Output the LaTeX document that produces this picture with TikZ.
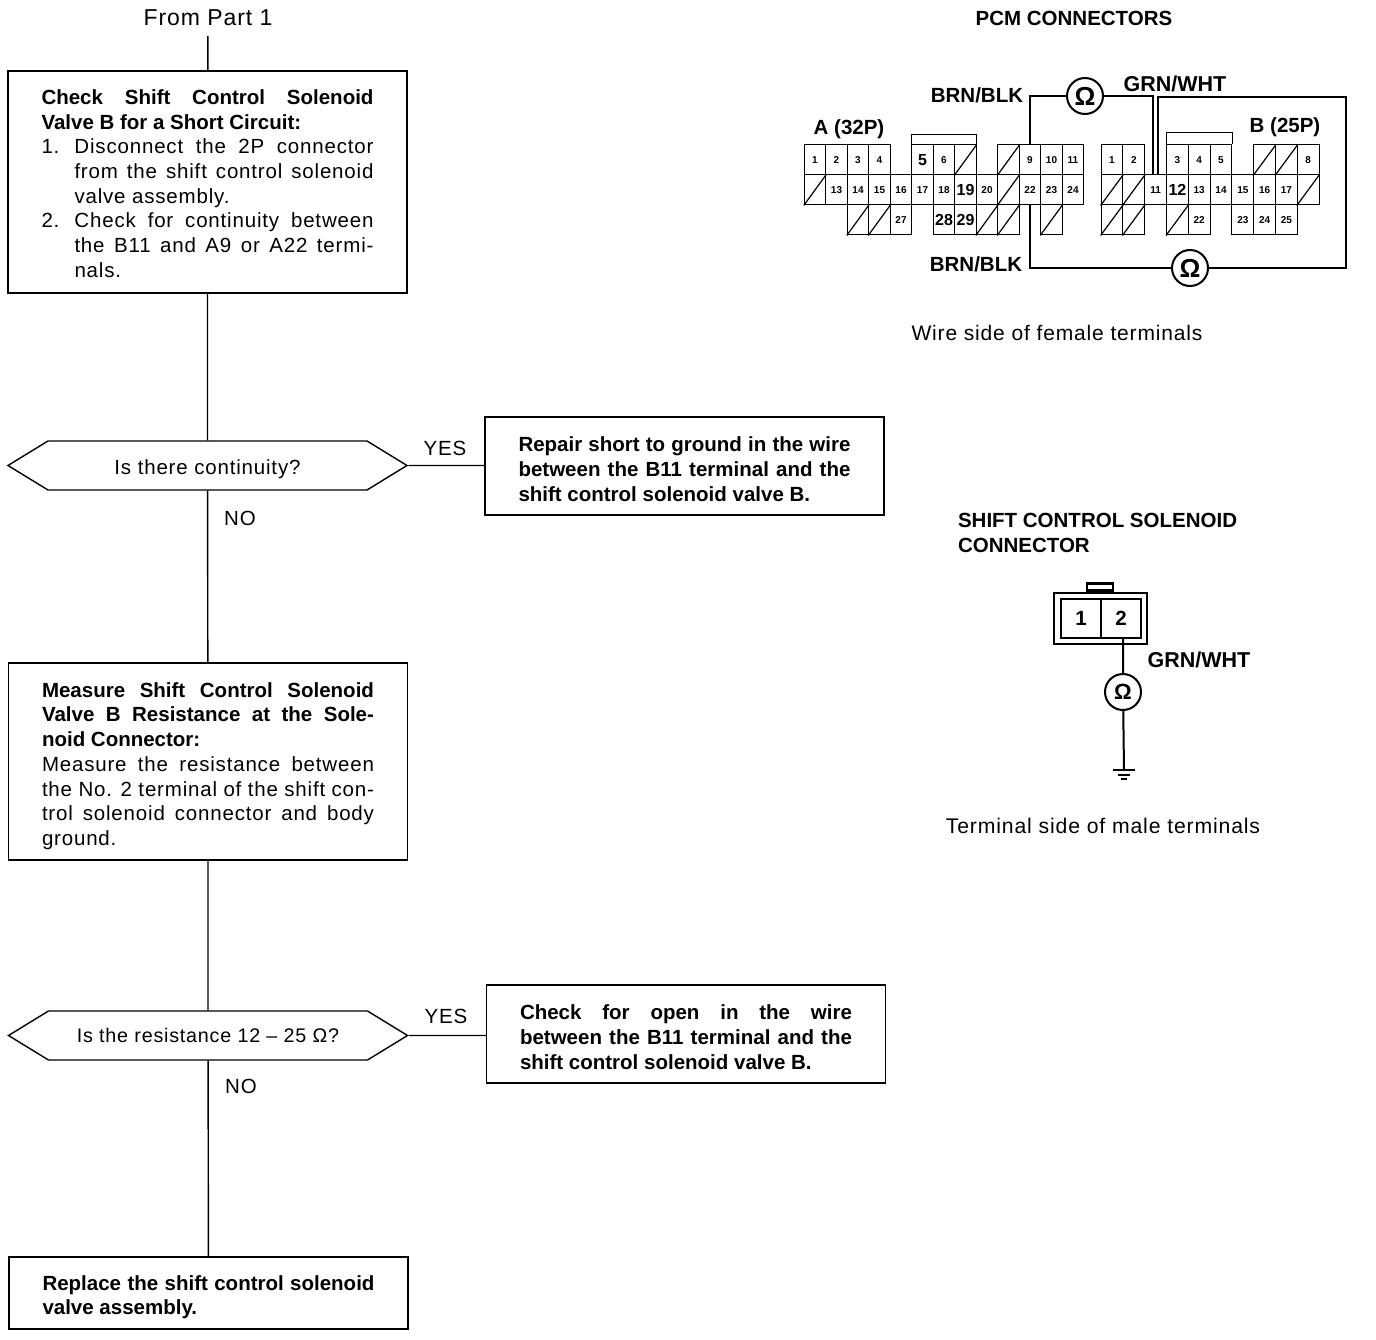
\documentclass[tikz,border=0pt]{standalone}
\usepackage{fontspec}
\setmainfont[LetterSpace=4,BoldFeatures={LetterSpace=0}]{Liberation Sans}
\usetikzlibrary{positioning, shapes.symbols, calc}
\setlength{\parindent}{0pt}

\tikzset{
    lbl/.style={font=\fontsize{20.5}{24.7}\selectfont},
    blbl/.style={font=\fontsize{20.5}{24.7}\selectfont\bfseries},
    stepbox/.style={draw, line width=1.4pt, lbl, text width=332pt, inner xsep=33.5pt, inner ysep=0pt, align=justify},
    boldbox/.style={stepbox, blbl},
    nudge/.style={execute at begin node={\rule{0pt}{#1}}},
    ask/.style={draw, line width=1.4pt, lbl, signal, signal to=west and east, signal pointer angle=63, minimum width=399pt, minimum height=49pt, inner sep=0pt},
    pin/.style={draw, line width=1pt, minimum width=21.5pt, minimum height=30pt, inner sep=0pt, font=\fontsize{10}{10}\selectfont\bfseries},
    meter/.style={draw, circle, line width=2pt, minimum size=36pt, inner sep=0pt, font=\fontsize{26}{26}\selectfont\bfseries},
    link/.style={line width=1.4pt},
    wire/.style={line width=2pt}
}
\newcommand{\bignum}[1]{{\fontsize{16}{16}\selectfont #1}}

\begin{document}
\begin{tikzpicture}[x=1pt, y=-1pt]
    \useasboundingbox (0,0) rectangle (1376,1340);

    % flow chart
    \node[lbl, font=\fontsize{23}{24}\selectfont, minimum height=36pt, inner sep=0pt] (part1) at (208, 18) {From Part 1};
    \node[stepbox, nudge=18pt, minimum height=222pt] (check) at (207.5, 182) {\textbf{Check Shift Control Solenoid\linebreak Valve B for a Short Circuit:}\par
        \hangindent=33pt\hangafter=1 \makebox[33pt][l]{1.}Disconnect the 2P connector\linebreak from the shift control solenoid\linebreak valve assembly.\par
        \hangindent=33pt\hangafter=1 \makebox[33pt][l]{2.}Check for continuity between\linebreak the B11 and A9 or A22 termi-\linebreak nals.\par};
    \node[ask, nudge=23pt] (cont) at (207.5, 465.5) {Is there continuity?};
    \node[boldbox, nudge=21pt, minimum height=98pt] (short) at (684.5, 466) {Repair short to ground in the wire\linebreak between the B11 terminal and the\linebreak shift control solenoid valve B.};
    \node[stepbox, nudge=24pt, minimum height=197pt] (meas) at (208, 761.5) {\textbf{Measure Shift Control Solenoid\linebreak Valve B Resistance at the Sole-\linebreak noid Connector:}\par
        Measure the resistance between\linebreak the No. 2 terminal of the shift con-\linebreak trol solenoid connector and body\linebreak ground.};
    \node[ask, font=\fontsize{19.7}{24.7}\selectfont] (resist) at (208, 1035.5) {Is the resistance 12 -- 25 Ω?};
    \node[boldbox, nudge=21pt, minimum height=98pt] (open) at (686, 1034) {Check for open in the wire\linebreak between the B11 terminal and the\linebreak shift control solenoid valve B.};
    \node[boldbox, nudge=23pt, minimum height=72pt] (repl) at (208.5, 1293) {Replace the shift control solenoid\linebreak valve assembly.};

    \node[lbl] (yes1) at (445, 448) {YES};
    \node[lbl] (no1) at (240, 518) {NO};
    \node[lbl] (yes2) at (446, 1016) {YES};
    \node[lbl] (no2) at (241, 1086) {NO};

    \draw[link]
        (part1) -- (check)
        (check) -- (cont)
        (cont) -- (short.west |- cont)
        (cont) -- (meas)
        (meas) -- (resist)
        (resist) -- (open.west |- resist)
        (resist) -- (repl)
        ;

    % PCM connectors
    \node[blbl] (pcm) at (1074, 18) {PCM CONNECTORS};
    \foreach \nm/\col/\row/\txt in {
        1/0/0/1, 2/1/0/2, 3/2/0/3, 4/3/0/4, 5/5/0/\bignum{5}, 6/6/0/6, 7/7/0/, 8/9/0/, 9/10/0/9, 10/11/0/10, 11/12/0/11,
        12/0/1/, 13/1/1/13, 14/2/1/14, 15/3/1/15, 16/4/1/16, 17/5/1/17, 18/6/1/18, 19/7/1/\bignum{19}, 20/8/1/20, 21/9/1/, 22/10/1/22, 23/11/1/23, 24/12/1/24,
        25/2/2/, 26/3/2/, 27/4/2/27, 28/6/2/\bignum{28}, 29/7/2/\bignum{29}, 30/8/2/, 31/9/2/, 32/11/2/}
        \node[pin] (a\nm) at ({815 + \col*21.5}, {160 + \row*30}) {\txt};
    \foreach \nm/\col/\row/\txt in {
        1/0/0/1, 2/1/0/2, 3/3/0/3, 4/4/0/4, 5/5/0/5, 6/7/0/, 7/8/0/, 8/9/0/8,
        9/0/1/, 10/1/1/, 11/2/1/11, 12/3/1/\bignum{12}, 13/4/1/13, 14/5/1/14, 15/6/1/15, 16/7/1/16, 17/8/1/17, 18/9/1/,
        19/0/2/, 20/1/2/, 21/3/2/, 22/4/2/22, 23/6/2/23, 24/7/2/24, 25/8/2/25}
        \node[pin, minimum width=21.8pt] (b\nm) at ({1112 + \col*21.8}, {160 + \row*30}) {\txt};
    \foreach \nm in {a7, a8, a12, a21, a25, a26, a30, a31, a32, b6, b7, b9, b10, b18, b19, b20, b21}
        \draw[line width=1.2pt] (\nm.south west) -- (\nm.north east);

    \draw[line width=1pt] (a5.north west) -- ++(0,-10) -| (a7.north east);
    \draw[line width=1pt] (b3.north west) -- ++(0,-12) -| (b5.north east);

    \node[blbl] (brn1) at (977, 95) {BRN/BLK};
    \node[blbl, font=\fontsize{21.5}{24}\selectfont\bfseries] (grn1) at (1175, 84) {GRN/WHT};
    \node[blbl] (brn2) at (976, 264) {BRN/BLK};
    \node[blbl] (conA) at (849, 129) {A (32P)};
    \node[blbl] (conB) at (1285, 127) {B (25P)};
    \node[lbl, font=\fontsize{21}{24}\selectfont] (wside) at (1057, 333) {Wire side of female terminals};

    \node[meter] (ohmA) at (1085, 96) {Ω};
    \node[meter] (ohmB) at (1190, 268) {Ω};
    \coordinate (cornerT) at (1346, 97);
    \coordinate (cornerB) at (1346, 268);

    \draw[wire]
        (a9.north) |- (ohmA)
        (ohmA) -| ([xshift=-2.5pt]b11.north)
        ([xshift=2.5pt]b11.north) |- (cornerT) -- (cornerB) -- (ohmB)
        (ohmB) -| (a22.south)
        ;

    % solenoid connector
    \node[blbl, align=left, anchor=west] (solT) at (954.5, 533) {SHIFT CONTROL SOLENOID\\CONNECTOR};
    \node[draw, line width=1.4pt, minimum width=93pt, minimum height=51pt, inner sep=0pt] (sol) at (1100.5, 618.5) {};
    \node[draw, line width=2.5pt, minimum width=26pt, minimum height=7pt, inner sep=0pt] (soltab) at (1100, 587) {};
    \node[draw, line width=1.4pt, minimum width=40pt, minimum height=39pt, inner sep=0pt, blbl] (s1) at (1081, 618.5) {1};
    \node[draw, line width=1.4pt, minimum width=40pt, minimum height=39pt, inner sep=0pt, blbl] (s2) at (1121, 618.5) {2};
    \node[blbl, font=\fontsize{21.5}{24}\selectfont\bfseries] (grn2) at (1199, 660) {GRN/WHT};
    \node[meter, font=\fontsize{22}{22}\selectfont\bfseries] (ohmC) at (1123, 692) {Ω};
    \node[lbl, font=\fontsize{21.2}{24}\selectfont] (tside) at (1103, 826) {Terminal side of male terminals};
    \coordinate (gnd) at (1124, 770);

    \draw[wire]
        (ohmC |- s2.south) -- (ohmC)
        (ohmC) -- (gnd)
        ;
    \draw[line width=1.6pt]
        ($(gnd)+(-11,0)$) -- ($(gnd)+(11,0)$)
        ($(gnd)+(-6,5)$) -- ($(gnd)+(6,5)$)
        ($(gnd)+(-3,9)$) -- ($(gnd)+(3,9)$)
        ;
\end{tikzpicture}
\end{document}
